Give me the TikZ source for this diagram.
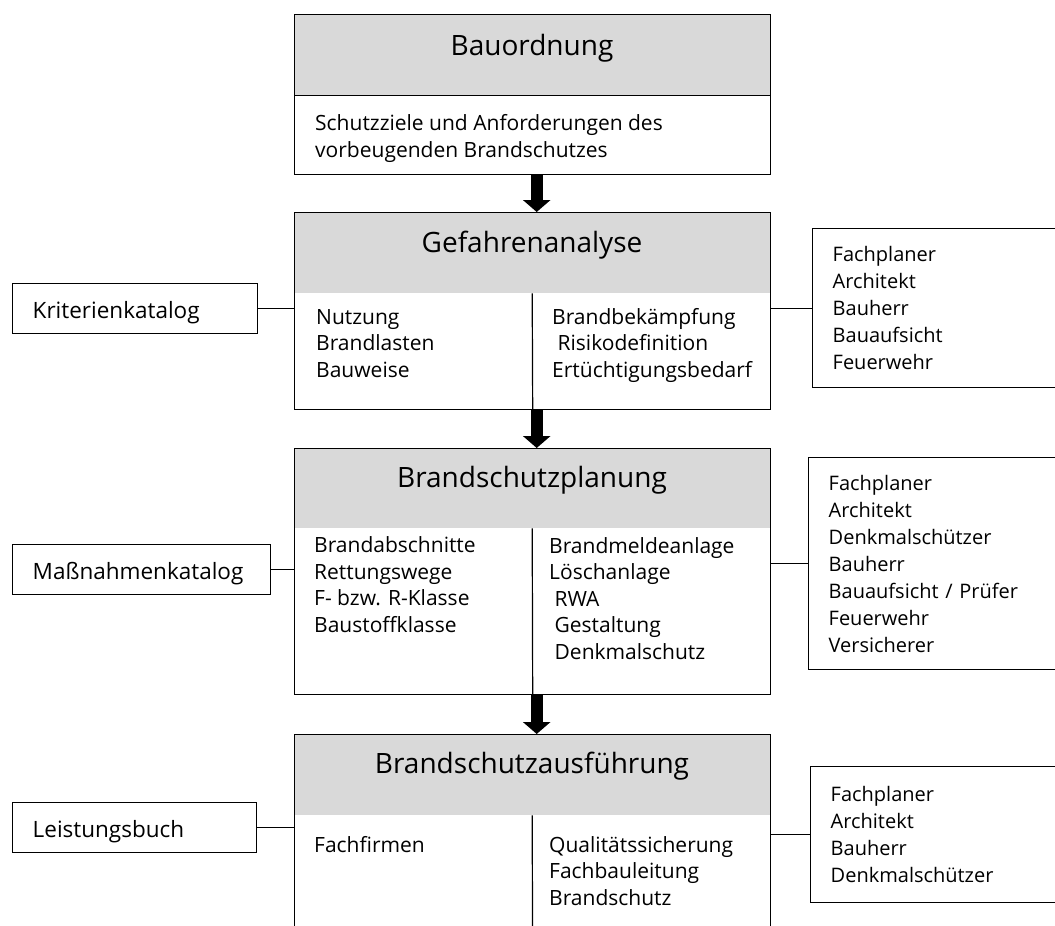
\documentclass[tikz,border=0pt]{standalone}
\usepackage{fontspec}
\setmainfont{Open Sans}
\usetikzlibrary{arrows.meta}
\definecolor{headgray}{HTML}{D9D9D9}

\begin{document}
\begin{tikzpicture}[x=1pt,y=-1pt,
    head node/.style={fill=headgray,anchor=north west,inner sep=0pt,minimum width=476pt,minimum height=81pt},
    block node/.style={draw,line width=1.4pt,anchor=north west,inner sep=0pt,minimum width=476pt},
    title node/.style={anchor=base,inner sep=0pt,font=\fontsize{28}{34}\selectfont},
    item node/.style={anchor=base west,inner sep=0pt,align=left,font=\fontsize{21}{26.5}\selectfont},
    side node/.style={draw,line width=1.4pt,anchor=north west,inner xsep=20pt,inner ysep=0pt,align=left,font=\fontsize{20}{27}\selectfont},
    catalog node/.style={side node,font=\fontsize{22.5}{27}\selectfont,text height=19pt,text depth=0pt,minimum height=50pt},
    flow arrow/.style={line width=12pt,-{Triangle[length=12pt,width=27pt]}},
    link line/.style={draw,line width=1.2pt}]
    \useasboundingbox (0,0) rectangle (1055,926);
    \clip (0,0) rectangle (1055,926);

    % Bauordnung
    \node[head node] at (294,14) (bauhead) {};
    \node[block node, minimum height=160pt] at (294,14) (bau) {};
    \draw[thin] (bauhead.south west) -- (bauhead.south east);
    \node[title node] at (532,55) (bautitle) {Bauordnung};
    % base = letzte Zeile
    \node[item node] at (315,157) (bautext) {Schutzziele und Anforderungen des\\vorbeugenden Brandschutzes};

    % Gefahrenanalyse
    \node[head node, minimum height=81pt] at (294,212) (gefhead) {};
    \node[block node, minimum height=197pt] at (294,212) (gef) {};
    \node[title node] at (532,252) (geftitle) {Gefahrenanalyse};
    \draw[link line] (gefhead.south) -- (gef.south);
    \node[item node] at (316,377) (gefleft) {Nutzung\\Brandlasten\\Bauweise};
    \node[item node] at (552,377) (gefright) {Brandbekämpfung\\\ Risikodefinition\\Ertüchtigungsbedarf};

    % Brandschutzplanung
    \node[head node, minimum height=80pt] at (294,448) (planhead) {};
    \node[block node, minimum height=246pt] at (294,448) (plan) {};
    \node[title node] at (532,487) (plantitle) {Brandschutzplanung};
    \draw[link line] (planhead.south) -- (plan.south);
    \node[item node] at (314,632) (planleft) {Brandabschnitte\\Rettungswege\\F- bzw. R-Klasse\\Baustoffklasse};
    \node[item node] at (549,659) (planright) {Brandmeldeanlage\\Löschanlage\\\ RWA\\\ Gestaltung\\\ Denkmalschutz};

    % Brandschutzausfuehrung
    \node[head node, minimum height=81pt] at (294,734) (ausfhead) {};
    \node[block node, minimum height=250pt] at (294,734) (ausf) {};
    \node[title node] at (532,773) (ausftitle) {Brandschutzausführung};
    \draw[link line] (ausfhead.south) -- (ausf.south);
    \node[item node] at (314,852) (ausfleft) {Fachfirmen};
    \node[item node] at (549,905) (ausfright) {Qualitätssicherung\\Fachbauleitung\\Brandschutz};

    % Kataloge links
    \node[catalog node, text width=205pt] at (12,283) (krit) {Kriterienkatalog};
    \node[catalog node, text width=218pt] at (12,544) (mass) {Maßnahmenkatalog};
    \node[catalog node, text width=204pt] at (12,802) (leist) {Leistungsbuch};

    % Beteiligte rechts
    \node[side node, text width=240pt, minimum height=159pt] at (812,228) (fach1) {Fachplaner\\Architekt\\Bauherr\\Bauaufsicht\\Feuerwehr};
    \node[side node, text width=240pt, minimum height=212pt] at (808,457) (fach2) {Fachplaner\\Architekt\\Denkmalschützer\\Bauherr\\Bauaufsicht / Prüfer\\Feuerwehr\\Versicherer};
    \node[side node, text width=240pt, minimum height=136pt] at (810,766) (fach3) {Fachplaner\\Architekt\\Bauherr\\Denkmalschützer};

    % Pfeile
    \draw[flow arrow] ([xshift=4pt]bau.south) -- ([xshift=4pt]gef.north);
    \draw[flow arrow] ([xshift=4pt]gef.south) -- ([xshift=4pt]plan.north);
    \draw[flow arrow] ([xshift=4pt]plan.south) -- ([xshift=4pt]ausf.north);

    \path
        (krit) edge[link line] (krit -| gef.west)
        (mass) edge[link line] (mass -| plan.west)
        (leist) edge[link line] (leist -| ausf.west)
        (fach1) edge[link line] (fach1 -| gef.east)
        (fach2) edge[link line] (fach2 -| plan.east)
        (fach3) edge[link line] (fach3 -| ausf.east)
        ;
\end{tikzpicture}
\end{document}
